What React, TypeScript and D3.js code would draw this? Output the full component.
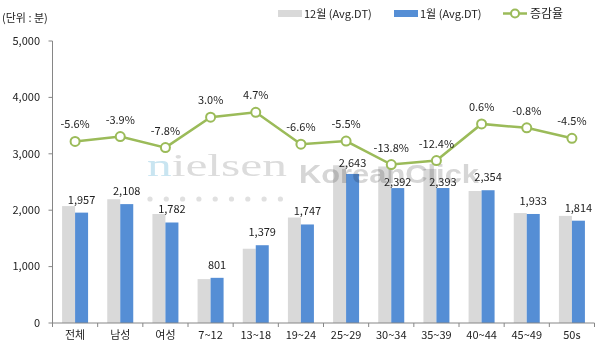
import * as d3 from "d3";

const categories = ["전체", "남성", "여성", "7~12", "13~18", "19~24", "25~29", "30~34", "35~39", "40~44", "45~49", "50s"];
const decValues = [2073, 2194, 1933, 778, 1317, 1870, 2797, 2775, 2732, 2340, 1949, 1899];
const janValues = [1957, 2108, 1782, 801, 1379, 1747, 2643, 2392, 2393, 2354, 1933, 1814];
const rates = [-0.056, -0.039, -0.078, 0.03, 0.047, -0.066, -0.055, -0.138, -0.124, 0.006, -0.008, -0.045];
const yTicks = [0, 1000, 2000, 3000, 4000, 5000];
const seriesNames = ["12월 (Avg.DT)", "1월 (Avg.DT)", "증감율"];

// small nudges for labels that were moved by hand in the original
const labelNudge: Record<string, number> = { "25~29": 2, "30~34": 7, "35~39": 7 };

const W = 599, H = 353;
const left = 52.5, right = 594.5, top = 41, bottom = 323;
const grayC = "#d9d9d9", blueC = "#558ed5", greenC = "#9bbb59", axisC = "#868686";
const font = "'Noto Sans CJK KR', 'Noto Sans', sans-serif";

export default function App() {
  const x = d3.scaleBand().domain(categories).range([left, right]);
  const bw = x.bandwidth();
  const inner = d3.scaleBand().domain(["dec", "jan"]).range([bw / 2 - 13, bw / 2 + 13]);
  const y = d3.scaleLinear().domain([0, 5000]).range([bottom, top]);
  const y2 = d3.scaleLinear().domain([-0.7, 0.3]).range([bottom, top]);
  const cx = (c: string) => (x(c) as number) + bw / 2;

  const line = d3.line<number>()
    .x((_, i) => cx(categories[i]))
    .y(d => y2(d));

  const fmt = d3.format(",");
  const pct = (v: number) => (v * 100).toFixed(1) + "%";

  return (
    <svg width={W} height={H} style={{ position: "absolute", left: 0, top: 0, fontFamily: font }}>
      <rect width={W} height={H} fill="#fff" />

      {/* unit */}
      <text x={2} y={22} fontSize={11} fill="#222">(단위 : 분)</text>

      {/* legend */}
      <rect x={278} y={10} width={24} height={7} fill={grayC} />
      <text x={304} y={17.5} fontSize={11} fill="#222">{seriesNames[0]}</text>
      <rect x={394} y={10} width={24} height={7} fill={blueC} />
      <text x={420} y={17.5} fontSize={11} fill="#222">{seriesNames[1]}</text>
      <line x1={503} x2={527} y1={13.5} y2={13.5} stroke={greenC} strokeWidth={2.5} />
      <circle cx={515} cy={13.5} r={4} fill="#fff" stroke={greenC} strokeWidth={2} />
      <text x={530} y={18} fontSize={12} fill="#222">{seriesNames[2]}</text>

      {/* y axis */}
      <line x1={left} x2={left} y1={top} y2={bottom} stroke={axisC} />
      {yTicks.map(t => (
        <g key={t}>
          <line x1={left - 4} x2={left} y1={y(t)} y2={y(t)} stroke={axisC} />
          <text x={40} y={y(t)} dy="0.35em" textAnchor="end" fontSize={11} fill="#222">{fmt(t)}</text>
        </g>
      ))}

      {/* bars */}
      {categories.map((c, i) => (
        <g key={c}>
          <rect x={(x(c) as number) + (inner("dec") as number)} y={y(decValues[i])}
            width={inner.bandwidth()} height={bottom - y(decValues[i])} fill={grayC} />
          <rect x={(x(c) as number) + (inner("jan") as number)} y={y(janValues[i])}
            width={inner.bandwidth()} height={bottom - y(janValues[i])} fill={blueC} />
        </g>
      ))}

      {/* watermark */}
      <g style={{ mixBlendMode: "multiply" }}>
        <text x={147} y={176} fontSize={32} fontFamily="'Liberation Serif', 'DejaVu Serif', serif"
          textLength={140} lengthAdjust="spacingAndGlyphs" fill="#dcdcdc">
          <tspan fill="#c9e5f1">n</tspan>ielsen
        </text>
        {d3.range(9).map(k => (
          <circle key={k} cx={150 + k * 16.3} cy={199} r={2.6} fill="#e0e0e0" />
        ))}
        <text x={299} y={183} fontSize={25} fontWeight="bold" fontFamily="'Liberation Sans', Arial, sans-serif"
          textLength={180} lengthAdjust="spacingAndGlyphs" fill="#d6d6d6">KoreanClick</text>
      </g>

      {/* x axis */}
      <line x1={left} x2={right} y1={bottom} y2={bottom} stroke={axisC} />
      {categories.map(c => (
        <line key={c} x1={x(c) as number} x2={x(c) as number} y1={bottom} y2={bottom + 4} stroke={axisC} />
      ))}
      <line x1={right} x2={right} y1={bottom} y2={bottom + 4} stroke={axisC} />
      {categories.map(c => (
        <text key={c} x={cx(c)} y={339} textAnchor="middle" fontSize={11} fill="#222">{c}</text>
      ))}

      {/* bar labels */}
      {categories.map((c, i) => (
        <text key={c} x={(x(c) as number) + (inner("jan") as number) + inner.bandwidth() / 2}
          y={y(janValues[i]) - 9 + (labelNudge[c] || 0)} textAnchor="middle" fontSize={11} fill="#222">
          {fmt(janValues[i])}
        </text>
      ))}

      {/* rate line */}
      <path d={line(rates) || ""} fill="none" stroke={greenC} strokeWidth={2.5} />
      {rates.map((r, i) => (
        <g key={i}>
          <circle cx={cx(categories[i])} cy={y2(r)} r={4.5} fill="#fff" stroke={greenC} strokeWidth={2} />
          <text x={cx(categories[i])} y={y2(r) - 13} textAnchor="middle" fontSize={11} fill="#222">{pct(r)}</text>
        </g>
      ))}
    </svg>
  );
}
